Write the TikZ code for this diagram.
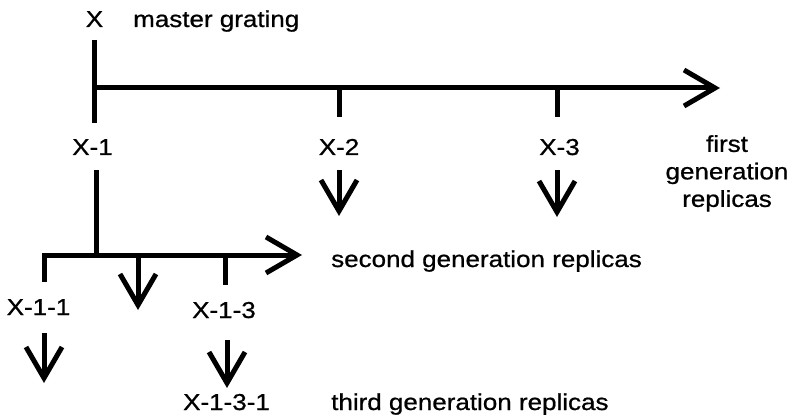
\documentclass[tikz,border=0pt]{standalone}
\usepackage{fontspec}
\setmainfont[FakeStretch=1.13,FakeBold=0.8]{Liberation Sans}
\usetikzlibrary{arrows.meta}
\begin{document}
\begin{tikzpicture}[x=1pt,y=-1pt,
  lbl/.style={inner sep=0pt,anchor=base,font=\fontsize{23}{27.5}\selectfont},
  lblw/.style={lbl,anchor=base west},
  bar/.style={line width=5pt},
  arr/.style={bar,-{Straight Barb[length=31pt,width=36pt,line width=5pt]}}]
\useasboundingbox (0,0) rectangle (793,417);
% labels
\node[lbl] (X) at (94.5,27) {X};
\node[lblw] (mg) at (133,27) {master grating};
\node[lbl] (X1) at (92.5,155) {X-1};
\node[lbl] (X2) at (339,155) {X-2};
\node[lbl] (X3) at (559.5,155) {X-3};
\node[lbl,align=center,anchor=north] (fg) at (727,135) {first\\generation\\replicas};
\node[lblw] (sg) at (331,267) {second generation replicas};
\node[lbl] (X11) at (38.5,315) {X-1-1};
\node[lbl] (X13) at (224,318) {X-1-3};
\node[lbl] (X131) at (226.5,410) {X-1-3-1};
\node[lblw] (tg) at (331,410) {third generation replicas};
% coordinates
\coordinate (a0) at (94,40);
\coordinate (a1) at (94,123);
\coordinate (h0) at (94,88);
\coordinate (h1) at (720,88);
\coordinate (t2) at (339,88);
\coordinate (t2b) at (339,117);
\coordinate (t3) at (557,88);
\coordinate (t3b) at (557,117);
\coordinate (d2a) at (339,170);
\coordinate (d2b) at (339,216);
\coordinate (d3a) at (557,170);
\coordinate (d3b) at (557,217);
\coordinate (b0) at (96,170);
\coordinate (b1) at (96,255);
\coordinate (s0) at (44,282);
\coordinate (s1) at (44,255);
\coordinate (s2) at (302,255);
\coordinate (m0) at (138,255);
\coordinate (m1) at (138,310);
\coordinate (u0) at (225,255);
\coordinate (u1) at (225,285);
\coordinate (e0) at (44,333);
\coordinate (e1) at (44,383);
\coordinate (f0) at (227,340);
\coordinate (f1) at (227,388);
% lines
\draw[bar] (a0) -- (a1);
\draw[arr] (h0) -- (h1);
\draw[bar] (t2) -- (t2b);
\draw[bar] (t3) -- (t3b);
\draw[arr] (d2a) -- (d2b);
\draw[arr] (d3a) -- (d3b);
\draw[bar] (b0) -- (b1);
\draw[arr,line join=miter] (s0) -- (s1) -- (s2);
\draw[arr] (m0) -- (m1);
\draw[bar] (u0) -- (u1);
\draw[arr] (e0) -- (e1);
\draw[arr] (f0) -- (f1);
\end{tikzpicture}
\end{document}
